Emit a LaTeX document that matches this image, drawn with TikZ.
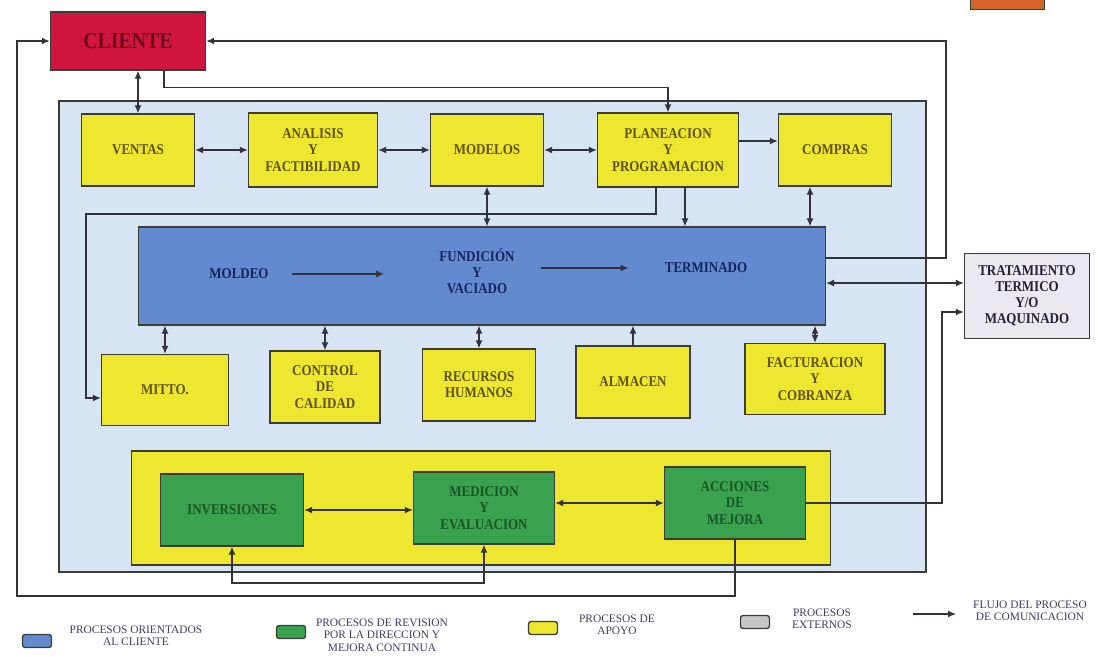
\documentclass[tikz,border=0pt]{standalone}
\usepackage{fontspec}
\setmainfont{Liberation Serif}
\newfontfamily\boxfont[FakeStretch=0.87]{Liberation Serif}
\usepackage{tikz}
\usetikzlibrary{arrows.meta,positioning,calc}
\definecolor{panelblue}{RGB}{214,228,243}
\definecolor{bandblue}{RGB}{98,138,206}
\definecolor{bandink}{RGB}{25,35,95}
\definecolor{supyellow}{RGB}{238,231,48}
\definecolor{supink}{RGB}{95,82,20}
\definecolor{revgreen}{RGB}{58,162,78}
\definecolor{revink}{RGB}{25,85,40}
\definecolor{clientred}{RGB}{208,22,62}
\definecolor{clientink}{RGB}{105,10,30}
\definecolor{extgray}{RGB}{236,232,242}
\definecolor{extink}{RGB}{40,30,50}
\definecolor{tagorange}{RGB}{214,100,42}
\definecolor{linegray}{RGB}{50,50,60}
\definecolor{boxedge}{RGB}{60,60,55}
\definecolor{legink}{RGB}{60,60,100}

\begin{document}
\begin{tikzpicture}[x=0.02cm,y=-0.02cm,
  flow/.style={-{Latex[length=1.6mm,width=1.4mm]},line width=0.7pt,draw=linegray},
  dflow/.style={{Latex[length=1.6mm,width=1.4mm]}-{Latex[length=1.6mm,width=1.4mm]},
                line width=0.7pt,draw=linegray},
  procbox/.style={draw=boxedge,line width=0.8pt,align=center,inner sep=1pt,
                  font=\boxfont\bfseries\fontsize{8.5}{9.2}\selectfont},
  supbox/.style={procbox,fill=supyellow,text=supink,minimum width=#1,minimum height=1.44cm},
  revbox/.style={procbox,fill=revgreen,text=revink,minimum width=#1,minimum height=1.44cm},
  bandtext/.style={inner sep=0pt,align=center,text=bandink,
                   font=\boxfont\bfseries\fontsize{8.5}{9.2}\selectfont},
  swatch/.style={draw=boxedge,line width=0.8pt,rounded corners=1.5pt,
                 minimum width=0.58cm,minimum height=0.26cm,inner sep=0pt},
  legtext/.style={align=center,inner sep=0pt,text=legink,
                  font=\fontsize{6.5}{7.1}\selectfont}]

\useasboundingbox (0,0) rectangle (1102,656);

% ---------------- background panel ----------------
\draw[fill=panelblue,draw=boxedge,line width=0.8pt] (59,101) rectangle (926,572);
\node[draw=boxedge,fill=tagorange,minimum width=1.48cm,minimum height=0.3cm,inner sep=0pt]
     (tag) at (1007,2) {};

% ---------------- client and top row ----------------
\node[procbox,fill=clientred,text=clientink,minimum width=3.1cm,minimum height=1.16cm,
      font=\boxfont\bfseries\fontsize{13}{15}\selectfont] (cliente) at (128,41) {CLIENTE};
\node[supbox=2.26cm] (ventas)     at (138,150) {VENTAS};
\node[supbox=2.58cm,minimum height=1.48cm] (analisis) at (313,150) {ANALISIS\\Y\\FACTIBILIDAD};
\node[supbox=2.26cm] (modelos)    at (487,150) {MODELOS};
\node[supbox=2.82cm,minimum height=1.48cm] (planeacion) at (668,150) {PLANEACION\\Y\\PROGRAMACION};
\node[supbox=2.26cm] (compras)    at (835,150) {COMPRAS};

% ---------------- customer oriented band ----------------
\node[procbox,fill=bandblue,minimum width=13.74cm,minimum height=1.96cm] (band) at (482,276) {};
\node[bandtext] (moldeo)    at (239,274) {MOLDEO};
\node[bandtext] (fundicion) at (477,271) {FUNDICIÓN\\Y\\VACIADO};
\node[bandtext] (terminado) at (706,268) {TERMINADO};
\draw[flow] ([xshift=0.46cm]moldeo.east) -- ([xshift=-1.1cm]moldeo.east -| fundicion.west);
\draw[flow] ([xshift=0.52cm]fundicion.east |- terminado.west) -- ([xshift=-0.72cm]terminado.west);

% ---------------- support row ----------------
\node[supbox=2.54cm,minimum height=1.42cm] (mitto)       at (165,390) {MITTO.};
\node[supbox=2.2cm]                        (control)     at (325,387) {CONTROL\\DE\\CALIDAD};
\node[supbox=2.26cm]                       (recursos)    at (479,385) {RECURSOS\\HUMANOS};
\node[supbox=2.28cm]                       (almacen)     at (633,382) {ALMACEN};
\node[supbox=2.8cm,minimum height=1.42cm]  (facturacion) at (815,379) {FACTURACION\\Y\\COBRANZA};

% ---------------- external process ----------------
\node[procbox,fill=extgray,text=extink,minimum width=2.5cm,minimum height=1.7cm]
     (tratamiento) at (1027,296) {TRATAMIENTO\\TERMICO\\Y/O\\MAQUINADO};

% ---------------- review band ----------------
\node[procbox,fill=supyellow,minimum width=13.98cm,minimum height=2.28cm] (revband) at (481,508) {};
\node[revbox=2.86cm] (inversiones) at (232,510) {INVERSIONES};
\node[revbox=2.82cm] (medicion)    at (484,508) {MEDICION\\Y\\EVALUACION};
\node[revbox=2.82cm] (acciones)    at (735,503) {ACCIONES\\DE\\MEJORA};

% corners of the long links
\coordinate (clcorner) at (946,41);
\coordinate (mtcorner) at (86,214);
\coordinate (trcorner) at (942,312);
\coordinate (imcorner) at (484,583);
\coordinate (lpcorner) at (17,596);

% ---------------- connectors ----------------
\draw[dflow] (cliente.south -| ventas.north) -- (ventas.north);
\draw[flow] ([xshift=0.72cm]cliente.south) |- ([yshift=0.5cm]planeacion.north) -- (planeacion.north);
\draw[dflow] (ventas) -- (analisis);
\draw[dflow] (analisis) -- (modelos);
\draw[dflow] (modelos) -- (planeacion);
\draw[flow] ([yshift=0.18cm]planeacion.east) -- ([yshift=0.18cm]planeacion.east -| compras.west);

\draw[dflow] (modelos.south) -- (modelos.south |- band.north);
\draw[flow] ([xshift=0.34cm]planeacion.south) -- ([xshift=0.34cm]planeacion.south |- band.north);
\draw[dflow] ([xshift=-0.5cm]compras.south) -- ([xshift=-0.5cm]compras.south |- band.north);
\draw[flow] ([xshift=-0.24cm]planeacion.south) |- (mtcorner) |- ([yshift=-0.16cm]mitto.west);

\foreach \n in {mitto,control,recursos,facturacion}{
  \draw[dflow] (\n.north) -- (\n.north |- band.south);
}
\draw[flow] (almacen.north) -- (almacen.north |- band.south);

\draw[flow] ([yshift=0.36cm]band.east) -| (clcorner) -- (cliente.east);
\draw[dflow] ([yshift=0.26cm]tratamiento.west) -- ([yshift=0.26cm]tratamiento.west -| band.east);
\draw[flow] (acciones.east) -| (trcorner) -- (trcorner -| tratamiento.west);

\draw[dflow] (inversiones) -- (inversiones -| medicion.west);
\draw[dflow] (medicion.east |- acciones.west) -- (acciones.west);
\draw[dflow] (inversiones.south) |- (imcorner) -- (medicion.south);
\draw[flow] (acciones.south) |- (lpcorner) |- (cliente.west);

% ---------------- legend ----------------
\node[swatch,fill=bandblue]  (lgblue)   at (37,641) {};
\node[legtext] (lgbluetxt)   at (136,636) {PROCESOS ORIENTADOS\\AL CLIENTE};
\node[swatch,fill=revgreen]  (lggreen)  at (291,632) {};
\node[legtext] (lggreentxt)  at (382,635) {PROCESOS DE REVISION\\POR LA DIRECCION Y\\MEJORA CONTINUA};
\node[swatch,fill=supyellow] (lgyellow) at (543,628) {};
\node[legtext] (lgyellowtxt) at (617,625) {PROCESOS DE\\APOYO};
\node[swatch,fill=gray!45]   (lggray)   at (755,622) {};
\node[legtext] (lggraytxt)   at (822,619) {PROCESOS\\EXTERNOS};
\coordinate (lgfrom) at (913,614);
\coordinate (lgto)   at (956,614);
\draw[flow] (lgfrom) -- (lgto);
\node[legtext] (lgflowtxt)   at (1030,611) {FLUJO DEL PROCESO\\DE COMUNICACION};

\end{tikzpicture}
\end{document}
